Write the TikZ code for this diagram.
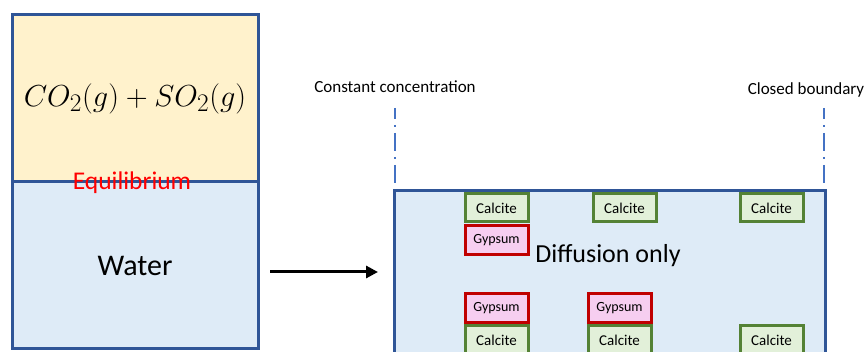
\documentclass[tikz,border=0pt]{standalone}
\usepackage{graphicx}
\usepackage{fontspec}
\setmainfont{Carlito}
\usetikzlibrary{arrows.meta}

\definecolor{gasfill}{HTML}{FFF2CC}
\definecolor{waterfill}{HTML}{DEEBF7}
\definecolor{tankline}{HTML}{2F5597}
\definecolor{bcline}{HTML}{4472C4}
\definecolor{calcline}{HTML}{548235}
\definecolor{calcfill}{HTML}{E2F0D9}
\definecolor{gypline}{HTML}{C00000}
\definecolor{gypfill}{HTML}{F6CEF0}

\begin{document}
\begin{tikzpicture}[x=1pt,y=-1pt,
  tank/.style={draw=tankline,line width=3pt,minimum width=246pt,inner sep=0pt},
  calcite/.style={draw=calcline,fill=calcfill,line width=3pt,minimum width=63pt,minimum height=28pt,inner sep=0pt,font=\fontsize{15}{17}\selectfont},
  gypsum/.style={draw=gypline,fill=gypfill,line width=3pt,minimum width=63pt,minimum height=29pt,inner sep=0pt,font=\fontsize{14}{16}\selectfont},
  bc/.style={draw=bcline,line width=2pt,dash pattern=on 18pt off 6pt on 2pt off 6pt,dash phase=7pt},
  lbl/.style={font=\fontsize{17}{20}\selectfont}]

\useasboundingbox (0,0) rectangle (868,352);
\clip (0,0) rectangle (868,352);

% left: gas over water
\node[tank,fill=gasfill,minimum height=167pt] (gas) at (135,98.5) {\scalebox{1.22}{\fontsize{24.88}{30}\selectfont $CO_2(g)+SO_2(g)$}};
\node[tank,fill=waterfill,minimum height=167pt] (water) at (135,265.5) {\fontsize{30}{35}\selectfont Water};
\node[text=red,font=\fontsize{25.5}{30}\selectfont] (equil) at (132,183) {Equilibrium};

% arrow
\coordinate (arrS) at (270,272);
\coordinate (arrE) at (378,272);
\draw[line width=3pt,-{Triangle[length=12pt,width=12pt]}] (arrS) -- (arrE);

% right: domain
\node[draw=tankline,fill=waterfill,line width=3pt,minimum width=431pt,minimum height=220pt,inner sep=0pt] (domain) at (609.5,301) {};
\node[font=\fontsize{26}{31}\selectfont] (diff) at (608,256) {Diffusion only};

% boundaries
\coordinate (bcLa) at (395,108);
\coordinate (bcLb) at (395,183);
\coordinate (bcRa) at (824,108);
\coordinate (bcRb) at (824,183);
\draw[bc] (bcLa) -- (bcLb);
\draw[bc] (bcRa) -- (bcRb);
\node[lbl] (const) at (395,87) {Constant concentration};
\node[lbl] (closed) at (806,90) {Closed boundary};

% minerals
\node[calcite] (c1) at (496.5,208) {Calcite};
\node[calcite] (c2) at (624.5,208) {Calcite};
\node[calcite] (c3) at (771.5,208) {Calcite};
\node[gypsum] (g1) at (496.5,240) {Gypsum};
\node[gypsum] (g2) at (496.5,308) {Gypsum};
\node[gypsum] (g3) at (619.5,308) {Gypsum};
\node[calcite] (c4) at (496.5,340) {Calcite};
\node[calcite] (c5) at (619.5,340) {Calcite};
\node[calcite] (c6) at (771.5,340) {Calcite};
\end{tikzpicture}
\end{document}
